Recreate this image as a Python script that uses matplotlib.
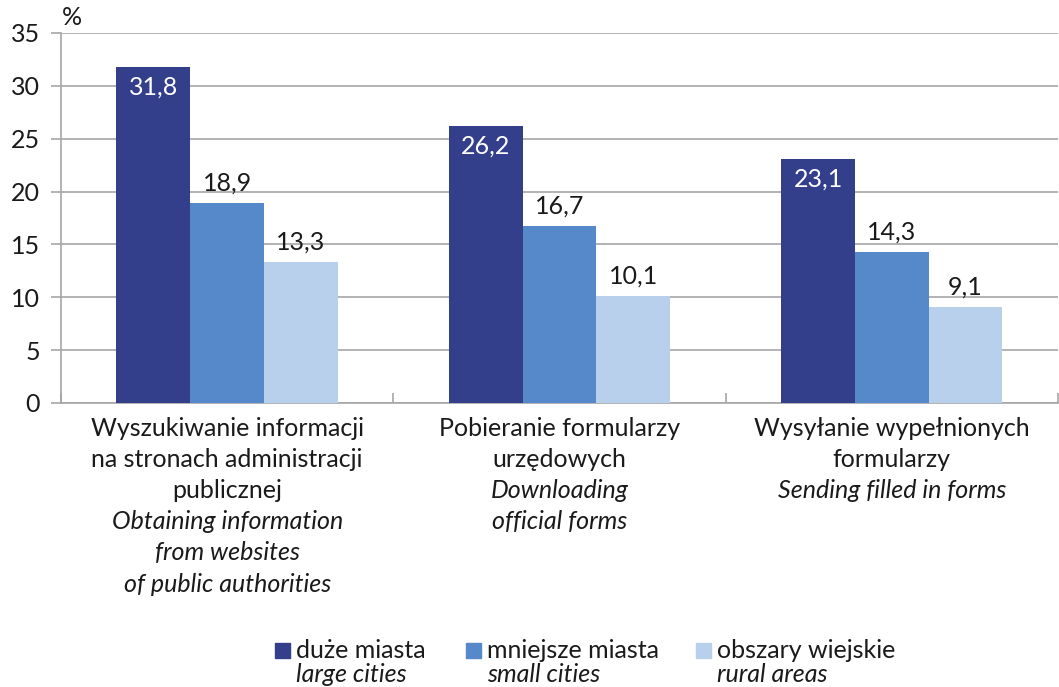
import matplotlib.pyplot as plt
from matplotlib.patches import Rectangle
from matplotlib.transforms import blended_transform_factory

plt.rcParams['font.family'] = ['Lato', 'DejaVu Sans']

# categories (Polish line(s) then English italic line(s))
cat_pl = [
    ["Wyszukiwanie informacji", "na stronach administracji", "publicznej"],
    ["Pobieranie formularzy", "urzędowych"],
    ["Wysyłanie wypełnionych", "formularzy"],
]
cat_en = [
    ["Obtaining information", "from websites", "of public authorities"],
    ["Downloading", "official forms"],
    ["Sending filled in forms"],
]

series_pl = ["duże miasta", "mniejsze miasta", "obszary wiejskie"]
series_en = ["large cities", "small cities", "rural areas"]
large = [31.8, 26.2, 23.1]
small = [18.9, 16.7, 14.3]
rural = [13.3, 10.1, 9.1]

colors = ["#343f8c", "#5589c9", "#b9d0ec"]
grid_c = "#a6a6a6"
txt_c = "#1a1a1a"
fs = 18

fig = plt.figure(figsize=(10.59, 6.87), dpi=100)
ax = fig.add_axes([0.0576, 0.4134, 0.9414, 0.5386])

bw = 0.222
for k, vals in enumerate([large, small, rural]):
    for i, v in enumerate(vals):
        x = i + (k - 1) * bw
        ax.bar(x, v, width=bw, color=colors[k], zorder=3)
        lbl = f"{v:.1f}".replace(".", ",")
        if k == 0:
            ax.text(x, v - 0.8, lbl, ha="center", va="top", color="white",
                    fontsize=fs, zorder=4)
        else:
            ax.text(x, v + 0.8, lbl, ha="center", va="bottom", color=txt_c,
                    fontsize=fs, zorder=4)

ax.set_xlim(-0.5, 2.5)
ax.set_ylim(0, 35)
ax.set_yticks(range(0, 36, 5))
ax.yaxis.grid(True, color=grid_c, linewidth=1.2, zorder=0)
ax.tick_params(axis="y", length=7, color=grid_c, width=1.2, labelsize=fs,
               labelcolor=txt_c, pad=8)
ax.set_xticks([-0.5, 0.5, 1.5, 2.5])
ax.set_xticklabels([])
ax.tick_params(axis="x", direction="in", length=7, color=grid_c, width=1.2)
for s in ["top", "right"]:
    ax.spines[s].set_visible(False)
for s in ["left", "bottom"]:
    ax.spines[s].set_color(grid_c)
    ax.spines[s].set_linewidth(1.2)

fig.text(0.068, 0.975, "%", fontsize=fs, color=txt_c, ha="center", va="center")

# category labels below axis
trans = blended_transform_factory(ax.transData, fig.transFigure)
line_h = 31.2 / 687
y0 = 1 - 428 / 687
for i in range(3):
    lines = [(t, "normal") for t in cat_pl[i]] + [(t, "italic") for t in cat_en[i]]
    for j, (t, st) in enumerate(lines):
        ax.text(i, y0 - j * line_h, t, transform=trans, ha="center", va="center",
                fontsize=fs, style=st, color=txt_c, clip_on=False)

# legend
leg_x = [275, 466, 696]
for k in range(3):
    x = leg_x[k] / 1059
    fig.patches.append(Rectangle((x, 1 - 658 / 687), 15 / 1059, 15 / 687,
                                 transform=fig.transFigure, color=colors[k]))
    fig.text(x + 21 / 1059, 1 - 650 / 687, series_pl[k], fontsize=fs,
             color=txt_c, va="center")
    fig.text(x + 21 / 1059, 1 - 675 / 687, series_en[k], fontsize=fs,
             style="italic", color=txt_c, va="center")

fig.savefig("out.png", dpi=100)
